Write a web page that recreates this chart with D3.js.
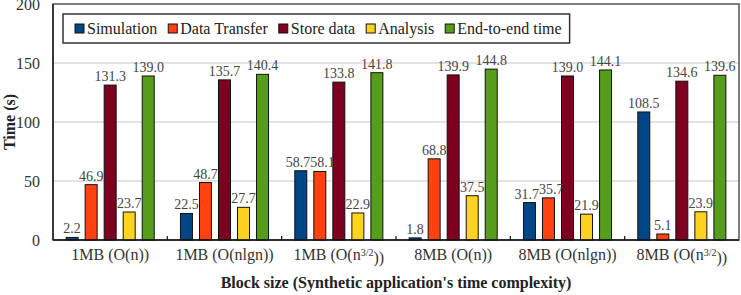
<!DOCTYPE html>
<html>
<head>
<meta charset="utf-8">
<script src="https://cdn.jsdelivr.net/npm/d3@7"></script>
<style>
body { margin: 0; background: #fff; }
text { font-family: "Liberation Serif", "Times New Roman", serif; }
</style>
</head>
<body>
<div id="chart-area"></div>
<script>
// Data
var categories = ["1MB (O(n))", "1MB (O(nlgn))", "1MB (O(n^3/2))",
                  "8MB (O(n))", "8MB (O(nlgn))", "8MB (O(n^3/2))"];
var series = ["Simulation", "Data Transfer", "Store data", "Analysis", "End-to-end time"];
var simulation   = [2.2, 22.5, 58.7, 1.8, 31.7, 108.5];
var dataTransfer = [46.9, 48.7, 58.1, 68.8, 35.7, 5.1];
var storeData    = [131.3, 135.7, 133.8, 139.9, 139.0, 134.6];
var analysis     = [23.7, 27.7, 22.9, 37.5, 21.9, 23.9];
var endToEnd     = [139.0, 140.4, 141.8, 144.8, 144.1, 139.6];
var yTicks = [0, 50, 100, 150, 200];
var colors = ["#004586", "#ff420e", "#7e0021", "#ffd320", "#579d1c"];

var values = [simulation, dataTransfer, storeData, analysis, endToEnd];

var margin = { left: 53, right: 2, top: 4, bottom: 55 },
    width = 741 - margin.left - margin.right,
    height = 295 - margin.top - margin.bottom;

var svg = d3.select("#chart-area")
    .append("svg")
    .attr("width", width + margin.left + margin.right)
    .attr("height", height + margin.top + margin.bottom);
var g = svg.append("g")
    .attr("transform", "translate(" + margin.left + "," + margin.top + ")");

// Scales
var x0 = d3.scaleBand().domain(categories).range([0, width]);
var x1 = d3.scaleBand().domain(series).range([0, x0.bandwidth()])
    .paddingInner(0.37).paddingOuter(0.69);
var y = d3.scaleLinear().domain([0, 200]).range([height, 0]);
var color = d3.scaleOrdinal().domain(series).range(colors);

// Gridlines
g.selectAll(".grid")
    .data(yTicks.filter(function(d) { return d > 0 && d < 200; }))
    .enter().append("line")
    .attr("class", "grid")
    .attr("x1", 0).attr("x2", width)
    .attr("y1", function(d) { return y(d); })
    .attr("y2", function(d) { return y(d); })
    .attr("stroke", "#c8c8c8")
    .attr("stroke-width", 1.2);

// Frame
g.append("rect")
    .attr("x", 0).attr("y", 0)
    .attr("width", width).attr("height", height)
    .attr("fill", "none")
    .attr("stroke", "#555")
    .attr("stroke-width", 1.5);

// Bars
var groups = g.selectAll(".group")
    .data(categories)
    .enter().append("g")
    .attr("class", "group")
    .attr("transform", function(d) { return "translate(" + x0(d) + ",0)"; });

groups.selectAll("rect")
    .data(function(d, i) {
        return series.map(function(s, k) { return { key: s, value: values[k][i] }; });
    })
    .enter().append("rect")
    .attr("x", function(d) { return x1(d.key); })
    .attr("y", function(d) { return y(d.value); })
    .attr("width", x1.bandwidth())
    .attr("height", function(d) { return height - y(d.value); })
    .attr("fill", function(d) { return color(d.key); })
    .attr("stroke", "#111")
    .attr("stroke-width", 1);

// Value labels
var labels = groups.selectAll(".val")
    .data(function(d, i) {
        return series.map(function(s, k) { return { key: s, value: values[k][i] }; });
    })
    .enter().append("text")
    .attr("class", "val")
    .attr("x", function(d) { return x1(d.key) + x1.bandwidth() / 2; })
    .attr("y", function(d) { return y(d.value) - 4; })
    .attr("text-anchor", "middle")
    .attr("font-size", "14px")
    .attr("fill", "#444")
    .text(function(d) { return d.value.toFixed(1); });

// nudge labels apart when neighbours at similar height collide
groups.each(function() {
    var nodes = d3.select(this).selectAll(".val").nodes();
    for (var i = 1; i < nodes.length; i++) {
        var a = nodes[i - 1].getBBox(), b = nodes[i].getBBox();
        var overlapX = a.x + a.width - b.x;
        var overlapY = Math.min(a.y + a.height, b.y + b.height) - Math.max(a.y, b.y);
        if (overlapX > 0 && overlapY > 0) {
            var s = overlapX / 2;
            d3.select(nodes[i - 1]).attr("x", +nodes[i - 1].getAttribute("x") - s);
            d3.select(nodes[i]).attr("x", +nodes[i].getAttribute("x") + s);
        }
    }
});

// Y axis labels
g.selectAll(".ytick")
    .data(yTicks)
    .enter().append("text")
    .attr("class", "ytick")
    .attr("x", -13)
    .attr("y", function(d) { return y(d); })
    .attr("dy", "0.35em")
    .attr("text-anchor", "end")
    .attr("font-size", "16px")
    .attr("fill", "#333")
    .text(function(d) { return d; });

// X axis line and inner ticks
g.append("line")
    .attr("x1", 0).attr("x2", width)
    .attr("y1", height).attr("y2", height)
    .attr("stroke", "#111").attr("stroke-width", 1.5);
g.append("line")
    .attr("x1", 0).attr("x2", 0)
    .attr("y1", 0).attr("y2", height)
    .attr("stroke", "#222").attr("stroke-width", 1.5);
g.selectAll(".xtick")
    .data(categories.slice(1))
    .enter().append("line")
    .attr("class", "xtick")
    .attr("x1", function(d) { return x0(d); })
    .attr("x2", function(d) { return x0(d); })
    .attr("y1", height).attr("y2", height - 4)
    .attr("stroke", "#111").attr("stroke-width", 1.2);

// Category labels (with superscript part after ^)
g.selectAll(".xlabel")
    .data(categories)
    .enter().append("text")
    .attr("class", "xlabel")
    .attr("x", function(d) { return x0(d) + x0.bandwidth() / 2; })
    .attr("y", height + 20)
    .attr("text-anchor", "middle")
    .attr("font-size", "16px")
    .attr("fill", "#333")
    .each(function(d) {
        var t = d3.select(this);
        var parts = d.split("^");
        if (parts.length === 1) { t.text(d); return; }
        var sup = parts[1].replace(/\)+$/, "");
        var tail = parts[1].slice(sup.length);
        t.append("tspan").text(parts[0]);
        t.append("tspan").attr("dy", "-0.45em").attr("font-size", "10px").text(sup);
        t.append("tspan").attr("dy", "0.45em").text(tail);
    });

// Axis titles
g.append("text")
    .attr("x", width / 2)
    .attr("y", height + 48)
    .attr("text-anchor", "middle")
    .attr("font-size", "16px")
    .attr("font-weight", "bold")
    .attr("fill", "#222")
    .text("Block size (Synthetic application's time complexity)");
g.append("text")
    .attr("transform", "rotate(-90)")
    .attr("x", -height / 2)
    .attr("y", -38)
    .attr("text-anchor", "middle")
    .attr("font-size", "16px")
    .attr("font-weight", "bold")
    .attr("fill", "#222")
    .text("Time (s)");

// Legend
var legend = g.append("g").attr("transform", "translate(10,10)");
var legendBox = legend.append("rect")
    .attr("x", 0).attr("y", 0)
    .attr("height", 29)
    .attr("fill", "#fff")
    .attr("stroke", "#333")
    .attr("stroke-width", 1.5);
var lx = 12;
series.forEach(function(s) {
    legend.append("rect")
        .attr("x", lx).attr("y", 10)
        .attr("width", 9).attr("height", 9)
        .attr("fill", color(s))
        .attr("stroke", "#111").attr("stroke-width", 1);
    var t = legend.append("text")
        .attr("x", lx + 12).attr("y", 19.5)
        .attr("font-size", "16px")
        .attr("fill", "#222")
        .text(s);
    lx = lx + 12 + t.node().getComputedTextLength() + 11;
});
legendBox.attr("width", lx - 3);
</script>
</body>
</html>
